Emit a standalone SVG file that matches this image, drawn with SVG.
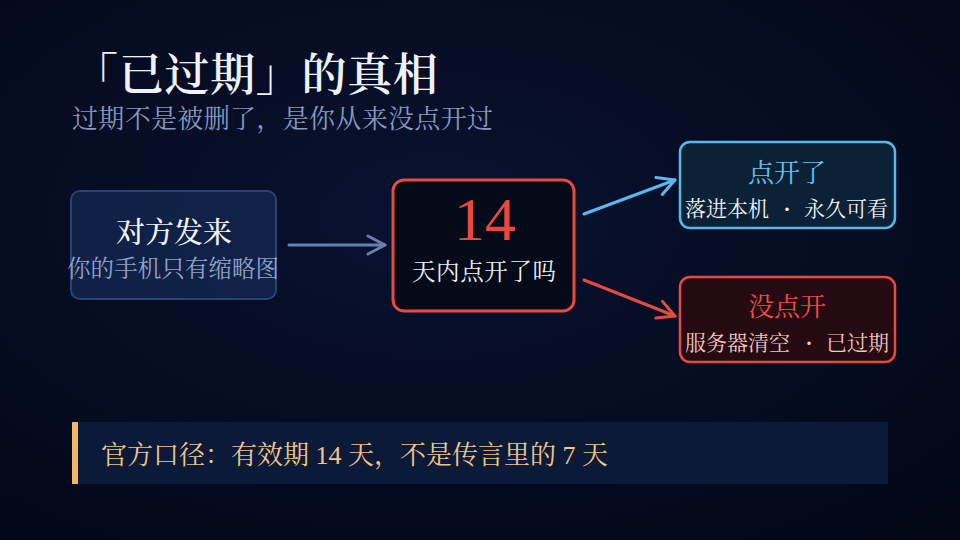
<svg xmlns="http://www.w3.org/2000/svg" width="960" height="540" viewBox="0 0 960 540">
<defs>
<radialGradient id="bg" cx="0.45" cy="0.4" r="0.8">
<stop offset="0" stop-color="#081230"/>
<stop offset="1" stop-color="#030716"/>
</radialGradient>
<marker id="ahG" viewBox="0 0 24 24" refX="20" refY="12" markerWidth="24" markerHeight="24" markerUnits="userSpaceOnUse" orient="auto">
<path d="M3,3 L20,12 L3,21" fill="none" stroke="#6a80aa" stroke-width="3" stroke-linecap="round" stroke-linejoin="round"/>
</marker>
<marker id="ahB" viewBox="0 0 24 24" refX="20" refY="12" markerWidth="24" markerHeight="24" markerUnits="userSpaceOnUse" orient="auto">
<path d="M3,3 L20,12 L3,21" fill="none" stroke="#5ab8f0" stroke-width="3" stroke-linecap="round" stroke-linejoin="round"/>
</marker>
<marker id="ahR" viewBox="0 0 24 24" refX="20" refY="12" markerWidth="24" markerHeight="24" markerUnits="userSpaceOnUse" orient="auto">
<path d="M3,3 L20,12 L3,21" fill="none" stroke="#e84a3f" stroke-width="3" stroke-linecap="round" stroke-linejoin="round"/>
</marker>
</defs>
<style>
.serif{font-family:"Liberation Serif","Noto Serif CJK SC","Noto Sans CJK SC",serif;}
.c{text-anchor:middle;}
</style>
<rect width="960" height="540" fill="url(#bg)"/>
<g id="title">
<text class="serif" x="73" y="91" font-size="45" font-weight="600" fill="#eef2fa" textLength="365" lengthAdjust="spacing">「已过期」的真相</text>
<text class="serif" x="72" y="128" font-size="26" fill="#8698bc" textLength="421" lengthAdjust="spacing">过期不是被删了，是你从来没点开过</text>
</g>
<g id="connectors" fill="none" stroke-width="3" stroke-linecap="round">
<line x1="289" y1="245" x2="385" y2="245" stroke="#6a80aa" marker-end="url(#ahG)"/>
<line x1="584" y1="214" x2="675" y2="180" stroke="#5ab8f0" marker-end="url(#ahB)"/>
<line x1="584" y1="280" x2="675" y2="316" stroke="#e84a3f" marker-end="url(#ahR)"/>
</g>
<g id="node-sender">
<rect x="71" y="191" width="205" height="108" rx="9" fill="#13254c" fill-opacity="0.85" stroke="#2b4272" stroke-width="2"/>
<text class="serif c" x="174" y="243" font-size="29" font-weight="500" fill="#f2f5fb">对方发来</text>
<text class="serif c" x="173" y="277" font-size="23.5" fill="#8fa2c8" textLength="212" lengthAdjust="spacing">你的手机只有缩略图</text>
</g>
<g id="node-14days">
<rect x="393" y="180" width="181" height="131" rx="11" fill="#050a18" stroke="#e84a3f" stroke-width="3"/>
<text class="serif c" x="485" y="240" font-size="62" fill="#e8483d">14</text>
<text class="serif c" x="484" y="280" font-size="23.5" fill="#eef2fa" textLength="144" lengthAdjust="spacing">天内点开了吗</text>
</g>
<g id="node-opened">
<rect x="680" y="142" width="215" height="86" rx="10" fill="#0b2236" stroke="#5ab8e8" stroke-width="2.5"/>
<text class="serif c" x="787" y="182" font-size="26" fill="#6cc2f2">点开了</text>
<text class="serif" font-size="21" fill="#f2f5fb" y="216"><tspan x="685">落进本机</tspan><tspan x="787" text-anchor="middle" font-weight="bold">·</tspan><tspan x="804">永久可看</tspan></text>
</g>
<g id="node-notopened">
<rect x="680" y="277" width="215" height="85" rx="10" fill="#260a12" stroke="#e84a3f" stroke-width="2.5"/>
<text class="serif c" x="787" y="316" font-size="26" fill="#ee4f44">没点开</text>
<text class="serif" font-size="21" fill="#f3c8c0" y="350"><tspan x="685">服务器清空</tspan><tspan x="809" text-anchor="middle" font-weight="bold">·</tspan><tspan x="826">已过期</tspan></text>
</g>
<g id="banner">
<rect x="72" y="422" width="816" height="62" fill="#0c1a3a"/>
<rect x="72" y="422" width="6" height="62" fill="#f3b667"/>
<text class="serif" x="101" y="464" font-size="26" fill="#f3c586">官方口径：有效期 14 天，不是传言里的 7 天</text>
</g>
</svg>
